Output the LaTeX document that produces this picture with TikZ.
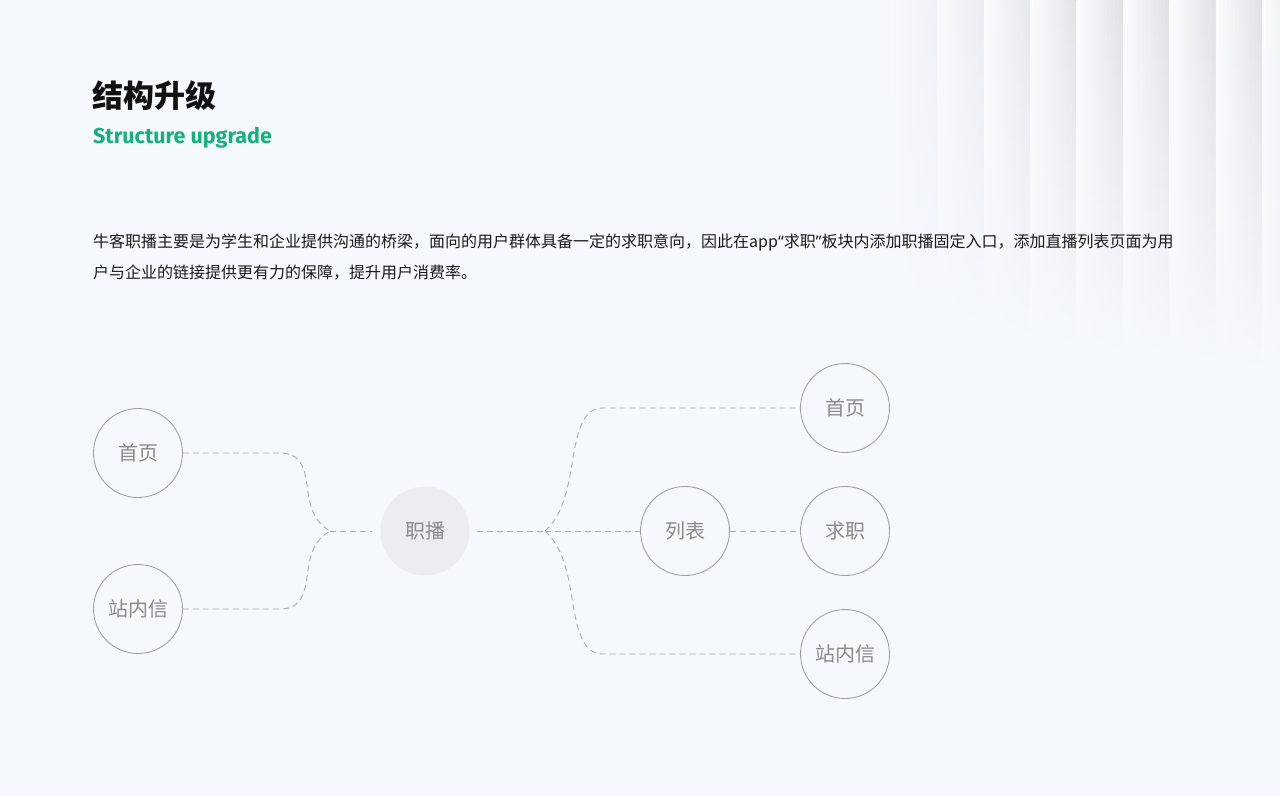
\documentclass[tikz,border=0pt]{standalone}
\usepackage{fontspec}
\newfontfamily\cjk{Noto Sans CJK SC}
\newfontfamily\headlatin{Fira Sans}
\newfontfamily\quotefont{Noto Sans}
\usepackage{tikz}

\definecolor{pagebg}{HTML}{F5F8FC}
\definecolor{stripelight}{HTML}{FCFCFD}
\definecolor{stripedark}{HTML}{E0E2E6}
\definecolor{titleblack}{HTML}{111111}
\definecolor{brandgreen}{RGB}{20,178,122}
\definecolor{bodytext}{HTML}{1A1A1A}
\definecolor{ringgray}{HTML}{A2A2A2}
\definecolor{labelgray}{HTML}{8A8A8A}
\definecolor{hubfill}{HTML}{ECEDF1}
\definecolor{linkgray}{HTML}{ABABAB}

\begin{document}
\begin{tikzpicture}[x=1pt, y=-1pt,
    bubble/.style={draw=ringgray, line width=0.9pt, circle, minimum size=89pt, inner sep=0pt,
        text=labelgray, font=\cjk\fontsize{20}{24}\selectfont},
    hub/.style={circle, fill=hubfill, minimum size=89pt, inner sep=0pt,
        text=labelgray, font=\cjk\fontsize{20}{24}\selectfont},
    link/.style={draw=linkgray, line width=0.9pt, dash pattern=on 6pt off 4pt}]
        \useasboundingbox (0,0) rectangle (1280,796);
        \fill[pagebg] (0,0) rectangle (1280,796);

        % stripes top right, each one cut in thin columns
        \foreach \i in {0,...,8}{
            \foreach \k in {0,...,11}{
                \pgfmathtruncatemacro\mix{100-\k*100/11}
                \pgfmathtruncatemacro\vis{min(100,30+20*\i)}
                \pgfmathsetmacro\h{330+6*\i}
                \colorlet{colk}{stripelight!\mix!stripedark}
                \colorlet{colk}{colk!\vis!pagebg}
                \shade[top color=colk, bottom color=pagebg]
                    ({891+46.4*\i+3.87*\k},0) rectangle ({891+46.4*\i+3.87*(\k+1)+0.3},\h);
            }
        }

        \node[anchor=west, inner sep=0pt, text=titleblack, font=\cjk\bfseries\fontsize{31}{37}\selectfont] (title) at (92,96) {结构升级};
        \node[anchor=base west, inner sep=0pt, text=brandgreen, font=\headlatin\bfseries\fontsize{21.5}{25}\selectfont] (subtitle) at (93,143) {Structure upgrade};
        \node[anchor=base west, inner sep=0pt, text=bodytext, font=\cjk\fontsize{16}{20}\selectfont] (para1) at (93,247)
            {牛客职播主要是为学生和企业提供沟通的桥梁，面向的用户群体具备一定的求职意向，因此在app{\quotefont “}求职{\quotefont ”}板块内添加职播固定入口，添加直播列表页面为用};
        \node[anchor=base west, inner sep=0pt, text=bodytext, font=\cjk\fontsize{16}{20}\selectfont] (para2) at (93,278)
            {户与企业的链接提供更有力的保障，提升用户消费率。};

        \node[bubble] (home1) at (138,453) {首页};
        \node[bubble] (msg1) at (138,609) {站内信};
        \node[hub] (live) at (425,531) {职播};
        \node[bubble] (list) at (685,531) {列表};
        \node[bubble] (home2) at (845,408) {首页};
        \node[bubble] (job) at (845,531) {求职};
        \node[bubble] (msg2) at (845,654) {站内信};

        \coordinate (joinL) at (330,531);
        \coordinate (joinR) at (545,531);

        \draw[link] (home1.east) -- (280,453) .. controls (297,453) and (304,462) .. (307,485)
            .. controls (310,510) and (315,522) .. (joinL);
        \draw[link] (msg1.east) -- (280,609) .. controls (297,609) and (304,600) .. (307,577)
            .. controls (310,552) and (315,540) .. (joinL);
        \draw[link, shorten >=8pt] (joinL) -- (live.west);
        \draw[link, shorten <=7pt] (live.east) -- (joinR);
        \draw[link] (joinR) .. controls (558,520) and (566,500) .. (571,470)
            .. controls (577,430) and (583,408) .. (603,408) -- (home2.west);
        \draw[link] (joinR) .. controls (558,542) and (566,562) .. (571,592)
            .. controls (577,632) and (583,654) .. (603,654) -- (msg2.west);
        \draw[link] (joinR) -- (list.west);
        \draw[link] (list.east) -- (job.west);
\end{tikzpicture}
\end{document}
